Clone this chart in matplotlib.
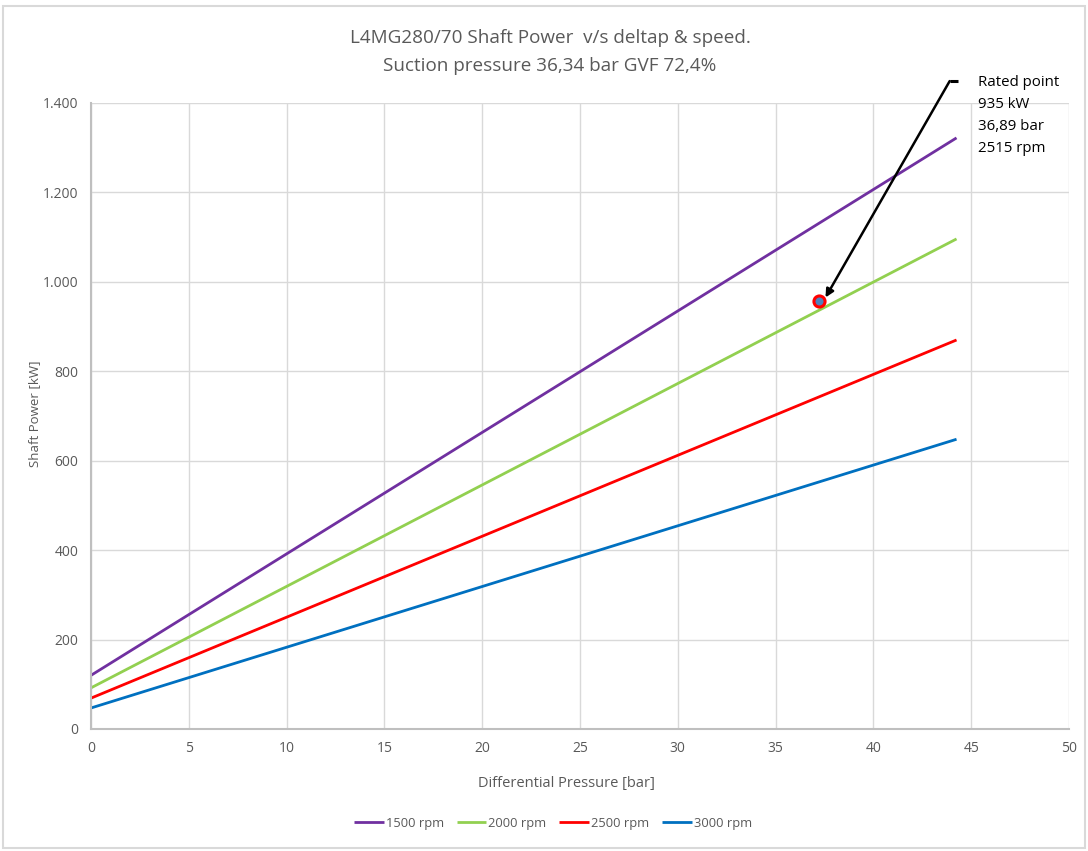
import matplotlib
matplotlib.use("Agg")
import matplotlib.pyplot as plt
from matplotlib.ticker import FuncFormatter, MultipleLocator
from matplotlib.patches import Rectangle

plt.rcParams['font.family'] = ['Open Sans', 'DejaVu Sans']

# Differential pressure range [bar]
dp = [0.0, 44.25]

speeds = ["1500 rpm", "2000 rpm", "2500 rpm", "3000 rpm"]
power_1500 = [120, 1322]
power_2000 = [92, 1096]
power_2500 = [69, 870]
power_3000 = [47, 648]
colors = ["#7030a0", "#92d050", "#ff0000", "#0070c0"]

rated_dp = 37.2
rated_power = 957
rated_text = "Rated point\n935 kW\n36,89 bar\n2515 rpm"

title = "L4MG280/70 Shaft Power  v/s deltap & speed.\nSuction pressure 36,34 bar GVF 72,4%"

grey_text = "#595959"

fig = plt.figure(figsize=(10.88, 8.51), dpi=100)
ax = fig.add_axes([91/1088, 1 - 729/851, (1069 - 91)/1088, (729 - 103)/851])

# Light frame around the chart area
fig.patches.append(Rectangle((0.003, 0.003), 0.994, 0.99, transform=fig.transFigure,
                             fill=False, edgecolor="#d9d9d9", linewidth=1.5))

series = [power_1500, power_2000, power_2500, power_3000]
for name, vals, c in zip(speeds, series, colors):
    ax.plot(dp, vals, color=c, linewidth=2.0, label=name, solid_capstyle="butt")

ax.plot([rated_dp], [rated_power], marker="o", markersize=8, markerfacecolor="#4f81bd",
        markeredgecolor="#ff0000", markeredgewidth=2.2, linestyle="none", zorder=5)

# Arrow pointing at the rated point
tail_x, tail_y = 43.9, 1449
ax.plot([tail_x, tail_x + 0.45], [tail_y, tail_y], color="black", linewidth=2.2,
        clip_on=False, solid_capstyle="butt")
ax.annotate("", xy=(rated_dp + 0.35, rated_power + 8), xytext=(tail_x, tail_y),
            arrowprops=dict(arrowstyle="-|>", color="black", lw=1.8, mutation_scale=12,
                            shrinkA=0, shrinkB=0),
            annotation_clip=False)
ax.text(45.35, 1462, rated_text, fontsize=10.8, color="black", va="top", ha="left",
        linespacing=1.62, clip_on=False)

ax.set_xlim(0, 50)
ax.set_ylim(0, 1400)
ax.xaxis.set_major_locator(MultipleLocator(5))
ax.yaxis.set_major_locator(MultipleLocator(200))
ax.yaxis.set_major_formatter(FuncFormatter(lambda v, p: f"{int(v):,}".replace(",", ".")))

ax.grid(True, color="#d9d9d9", linewidth=1.0)
ax.set_axisbelow(True)
for s in ["top", "right"]:
    ax.spines[s].set_visible(False)
for s in ["left", "bottom"]:
    ax.spines[s].set_color("#bfbfbf")
    ax.spines[s].set_linewidth(1.5)
ax.tick_params(length=0, colors=grey_text, labelsize=10, pad=9)

ax.set_xlabel("Differential Pressure [bar]", color=grey_text, fontsize=10.5)
ax.xaxis.set_label_coords((566 - 91) / 978, -(776 - 729) / 626)
fig.text(35 / 1088, 1 - 414 / 851, "Shaft Power [kW]", rotation=90, ha="center",
         va="center", color=grey_text, fontsize=9.5)

fig.text(550 / 1088, 1 - 52/851, title, ha="center", va="center", fontsize=13.6,
         color=grey_text, linespacing=1.75)

fig.legend(loc="center", bbox_to_anchor=(553/1088, 1 - 823/851), ncol=4, frameon=False,
           fontsize=9.3, handlelength=2.3, handletextpad=0.15, columnspacing=1.0,
           labelcolor=grey_text)

fig.savefig("out.png", dpi=100, facecolor="white")
